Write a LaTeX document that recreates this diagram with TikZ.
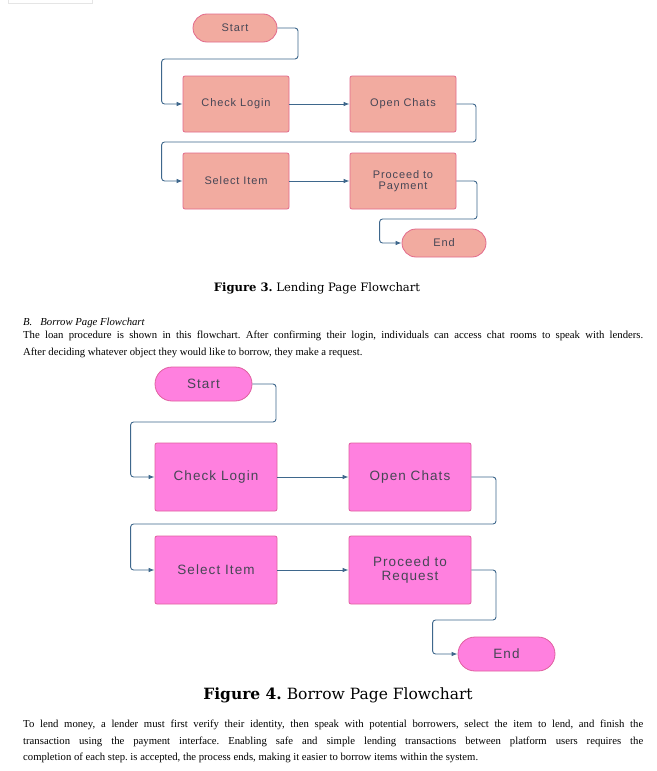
\documentclass[tikz,border=0pt]{standalone}
\usepackage{fontspec}
\setmainfont{Liberation Serif}
\newfontfamily\boxfont[LetterSpace=8]{Liberation Sans}
\newfontfamily\capfont{DejaVu Serif}
\usepackage{tikz}
\usetikzlibrary{arrows.meta,positioning,calc}
\definecolor{lendFill}{RGB}{242,171,160}
\definecolor{lendLine}{RGB}{226,106,140}
\definecolor{borrowFill}{RGB}{255,128,223}
\definecolor{borrowLine}{RGB}{224,96,160}
\definecolor{flowBlue}{RGB}{62,103,140}
\definecolor{boxText}{RGB}{70,70,85}
\frenchspacing

\begin{document}
\begin{tikzpicture}[x=1pt,y=-1pt,
    lendbox/.style={draw=lendLine,fill=lendFill,line width=0.8pt,rounded corners=2pt,
      minimum width=106pt,minimum height=56pt,inner sep=1pt,align=center,text=boxText,
      font=\boxfont\fontsize{11}{11}\selectfont},
    lendterm/.style={lendbox,rounded corners=14pt,minimum width=84pt,minimum height=28pt},
    borrowbox/.style={draw=borrowLine,fill=borrowFill,line width=0.8pt,rounded corners=2pt,
      minimum width=122pt,minimum height=68pt,inner sep=1pt,align=center,text=boxText,
      font=\boxfont\fontsize{13.5}{14}\selectfont},
    borrowterm/.style={borrowbox,rounded corners=17pt,minimum width=97pt,minimum height=34pt},
    flow/.style={draw=flowBlue,line width=0.9pt,rounded corners=3pt,-{Latex[length=6pt,width=4.5pt]}},
    para/.style={text width=620pt,align=justify,inner sep=0pt,font=\fontsize{10.7}{16.3}\selectfont}]
  \useasboundingbox[fill=white] (0,0) rectangle (656,771);
  \draw[gray!20] (8,-1) rectangle (92,3);

  % Figure 3: lending page
  \node[lendterm] (start3) at (235,28) {Start};
  \node[lendbox] (login3) at (236,104) {Check Login};
  \node[lendbox] (chats3) at (403,104) {Open Chats};
  \node[lendbox] (select3) at (236,181) {Select Item};
  \node[lendbox] (pay3) at (403,181) {Proceed to\\Payment};
  \node[lendterm] (end3) at (444,243) {End};
  \draw[flow] (start3.east) -| (298,59) -| ([xshift=-21pt]login3.west) -- (login3.west);
  \draw[flow] (login3.east) -- (chats3.west);
  \draw[flow] (chats3.east) -| (476,142) -| ([xshift=-21pt]select3.west) -- (select3.west);
  \draw[flow] (select3.east) -- (pay3.west);
  \draw[flow] (pay3.east) -| (477,219) -| ([xshift=-22pt]end3.west) -- (end3.west);
  \node[font=\capfont\fontsize{11.6}{13}\selectfont] (cap3) at (317,288)
    {\textbf{Figure 3.} Lending Page Flowchart};

  % Text between the figures
  \node[anchor=base west,inner sep=0pt,font=\fontsize{10.7}{16.3}\selectfont\itshape] (headB)
    at (23,325) {B.\hspace{8pt}Borrow Page Flowchart};
  \node[para,anchor=north west] (paraB) at (23,331)
    {The loan procedure is shown in this flowchart. After confirming their login, individuals can access chat rooms to speak with lenders.\linebreak
     After deciding whatever object they would like to borrow, they make a request.};

  % Figure 4: borrow page
  \node[borrowterm] (start4) at (203.5,384) {Start};
  \node[borrowbox] (login4) at (216,477) {Check Login};
  \node[borrowbox] (chats4) at (410,477) {Open Chats};
  \node[borrowbox] (select4) at (216,570) {Select Item};
  \node[borrowbox] (req4) at (410,570) {Proceed to\\Request};
  \node[borrowterm] (end4) at (506.5,654) {End};
  \draw[flow] (start4.east) -| (276,422) -| ([xshift=-24pt]login4.west) -- (login4.west);
  \draw[flow] (login4.east) -- (chats4.west);
  \draw[flow] (chats4.east) -| (496,524) -| ([xshift=-24pt]select4.west) -- (select4.west);
  \draw[flow] (select4.east) -- (req4.west);
  \draw[flow] (req4.east) -| (496,620) -| ([xshift=-25pt]end4.west) -- (end4.west);
  \node[font=\capfont\fontsize{15.5}{17}\selectfont] (cap4) at (338,695)
    {\textbf{Figure 4.} Borrow Page Flowchart};

  % Closing paragraph
  \node[para,anchor=north west] (paraEnd) at (23,720)
    {To lend money, a lender must first verify their identity, then speak with potential borrowers, select the item to lend, and finish the\linebreak
     transaction using the payment interface. Enabling safe and simple lending transactions between platform users requires the\linebreak
     completion of each step. is accepted, the process ends, making it easier to borrow items within the system.};
\end{tikzpicture}
\end{document}
